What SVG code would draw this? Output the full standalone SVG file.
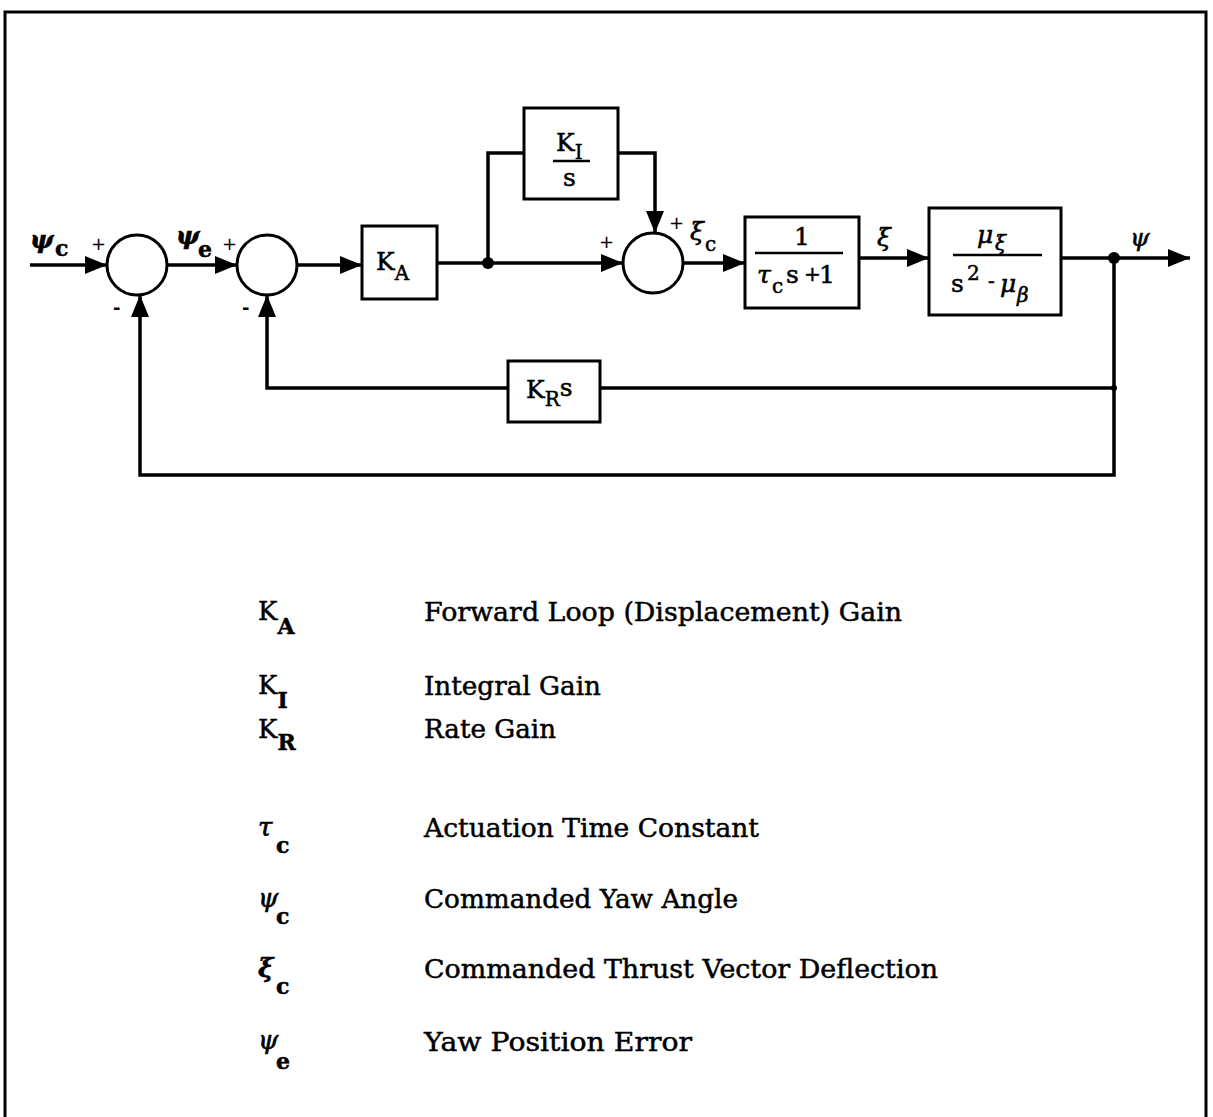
<svg xmlns="http://www.w3.org/2000/svg" width="1213" height="1117" viewBox="0 0 1213 1117">
<style>
.ln{fill:none;stroke:#000;stroke-width:3.5}
.bx{fill:#fff;stroke:#000;stroke-width:3}
.t{font-family:"DejaVu Serif","Liberation Serif",serif;fill:#000;stroke:#000;stroke-width:0.5}
.lg{font-size:26px}
.d{font-size:25px}
.s{font-size:20px}
.ls{font-size:22px;font-weight:bold}
.g{font-family:"DejaVu Serif","Liberation Serif",serif;font-style:italic;fill:#000;stroke:#000;stroke-width:0.6}
.pm{font-family:"DejaVu Sans","Liberation Sans",sans-serif;font-size:18px;fill:#000}
</style>
<defs>
<marker id="ah" markerUnits="userSpaceOnUse" markerWidth="24" markerHeight="18" refX="22" refY="9" orient="auto">
<path d="M0,0 L22,9 L0,18 Z" fill="#000"/>
</marker>
</defs>
<rect width="1213" height="1117" fill="#fff"/>
<!-- border -->
<path d="M5,1117 V12 H1206 V1117" fill="none" stroke="#000" stroke-width="3"/>

<g id="connectors">
<path class="ln" d="M30,265 H107" marker-end="url(#ah)"/>
<path class="ln" d="M167,265 H237" marker-end="url(#ah)"/>
<path class="ln" d="M297,265 H362" marker-end="url(#ah)"/>
<path class="ln" d="M437,263 H623" marker-end="url(#ah)"/>
<path class="ln" d="M488,263 V153 H524"/>
<path class="ln" d="M618,153 H655 V233" marker-end="url(#ah)"/>
<path class="ln" d="M683,263 H745" marker-end="url(#ah)"/>
<path class="ln" d="M859,258 H929" marker-end="url(#ah)"/>
<path class="ln" d="M1061,258 H1190" marker-end="url(#ah)"/>
<path class="ln" d="M1114,258 V475 H140 V295" marker-end="url(#ah)"/>
<path class="ln" d="M1114,388 H600"/>
<path class="ln" d="M508,388 H267 V295" marker-end="url(#ah)"/>
<circle cx="488" cy="263" r="6" fill="#000"/>
<circle cx="1114" cy="258" r="6" fill="#000"/>
<circle cx="1114" cy="388" r="3" fill="#000"/>
</g>

<g id="sum1"><circle class="bx" cx="137" cy="265" r="30"/></g>
<g id="sum2"><circle class="bx" cx="267" cy="265" r="30"/></g>
<g id="sum3"><circle class="bx" cx="653" cy="263" r="30"/></g>

<g id="ka"><rect class="bx" x="362" y="226" width="75" height="73"/>
<text class="t d" x="376" y="270">K<tspan class="s" dy="10">A</tspan></text></g>

<g id="ki"><rect class="bx" x="524" y="108" width="94" height="91"/>
<text class="t d" x="556" y="151">K<tspan class="s" dy="8">I</tspan></text>
<line x1="553" y1="161" x2="590" y2="161" stroke="#000" stroke-width="2.5"/>
<text class="t d" x="563" y="186">s</text></g>

<g id="act"><rect class="bx" x="745" y="217" width="114" height="91"/>
<text class="t d" x="794" y="245">1</text>
<line x1="755" y1="253" x2="843" y2="253" stroke="#000" stroke-width="2.5"/>
<text class="g d" x="757" y="283">τ</text>
<text class="t s" x="772" y="293">c</text>
<text class="t d" x="786" y="283">s</text>
<text class="t s" x="804" y="281">+</text>
<text class="t d" x="819" y="283">1</text></g>

<g id="plant"><rect class="bx" x="929" y="208" width="132" height="107"/>
<text class="g d" x="977" y="243">μ</text>
<text class="g s" x="995" y="250">ξ</text>
<line x1="953" y1="255" x2="1042" y2="255" stroke="#000" stroke-width="2.5"/>
<text class="t d" x="951" y="292">s</text>
<text class="t s" x="967" y="280">2</text>
<text class="t s" x="988" y="288">-</text>
<text class="g d" x="1000" y="292">μ</text>
<text class="g s" x="1017" y="302">β</text></g>

<g id="kr"><rect class="bx" x="508" y="361" width="92" height="61"/>
<text class="t d" x="526" y="398">K<tspan class="s" dy="8">R</tspan><tspan class="d" dy="-10">s</tspan></text></g>

<g id="labels">
<text class="g d" x="30" y="248" font-weight="bold">ψ</text><text class="t ls" x="55" y="256">c</text>
<text class="pm" x="91" y="250">+</text>
<text class="pm" x="113" y="314" font-weight="bold">-</text>
<text class="g d" x="176" y="244" font-weight="bold">ψ</text><text class="t ls" x="198" y="257">e</text>
<text class="pm" x="222" y="250">+</text>
<text class="pm" x="242" y="314" font-weight="bold">-</text>
<text class="pm" x="599" y="248">+</text>
<text class="pm" x="669" y="229">+</text>
<text class="g d" x="690" y="240">ξ</text><text class="t s" x="705" y="251">c</text>
<text class="g d" x="877" y="246">ξ</text>
<text class="g d" x="1130" y="246">ψ</text>
</g>

<g id="legend">
<text class="t lg" x="258" y="620">K<tspan class="ls" dy="14">A</tspan></text>
<text class="t lg" x="424" y="621" textLength="478" lengthAdjust="spacingAndGlyphs">Forward Loop (Displacement) Gain</text>
<text class="t lg" x="258" y="694">K<tspan class="ls" dy="14">I</tspan></text>
<text class="t lg" x="424" y="695" textLength="177" lengthAdjust="spacingAndGlyphs">Integral Gain</text>
<text class="t lg" x="258" y="738">K<tspan class="ls" dy="12">R</tspan></text>
<text class="t lg" x="424" y="738" textLength="132" lengthAdjust="spacingAndGlyphs">Rate Gain</text>
<text class="g lg" x="258" y="836">τ</text><text class="t ls" x="276" y="853">c</text>
<text class="t lg" x="424" y="837" textLength="335" lengthAdjust="spacingAndGlyphs">Actuation Time Constant</text>
<text class="g lg" x="258" y="907">ψ</text><text class="t ls" x="276" y="924">c</text>
<text class="t lg" x="424" y="908" textLength="314" lengthAdjust="spacingAndGlyphs">Commanded Yaw Angle</text>
<text class="g lg" x="258" y="977" font-weight="bold">ξ</text><text class="t ls" x="276" y="994">c</text>
<text class="t lg" x="424" y="978" textLength="514" lengthAdjust="spacingAndGlyphs">Commanded Thrust Vector Deflection</text>
<text class="g lg" x="258" y="1049">ψ</text><text class="t ls" x="276" y="1069">e</text>
<text class="t lg" x="424" y="1051" textLength="268" lengthAdjust="spacingAndGlyphs">Yaw Position Error</text>
</g>
</svg>
